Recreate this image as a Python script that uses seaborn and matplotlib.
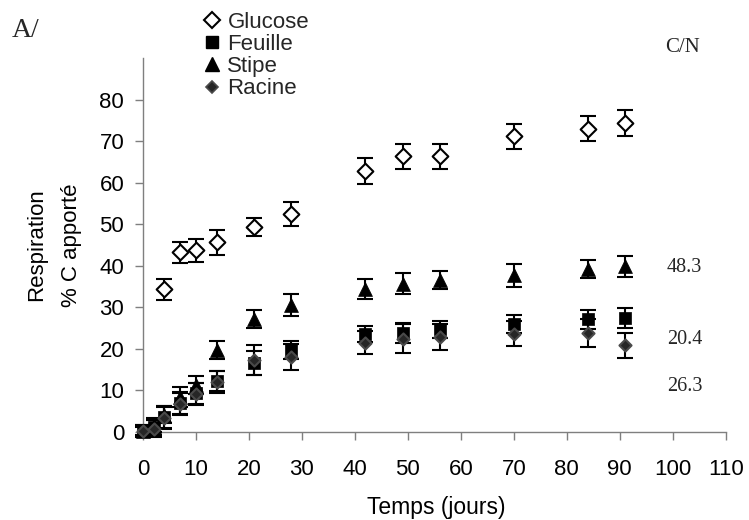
import matplotlib
matplotlib.use("Agg")
import matplotlib.pyplot as plt
from matplotlib.lines import Line2D
import pandas as pd
import seaborn as sns

# ---- data ----
days = [0, 2, 4, 7, 10, 14, 21, 28, 42, 49, 56, 70, 84, 91]
glucose_days = [4, 7, 10, 14, 21, 28, 42, 49, 56, 70, 84, 91]
glucose = [34.3, 43.2, 43.7, 45.7, 49.4, 52.4, 62.8, 66.3, 66.3, 71.2, 73.0, 74.4]
glucose_err = [2.6, 2.6, 2.7, 3.0, 2.2, 2.9, 3.1, 2.9, 2.9, 3.0, 3.0, 3.1]
feuille = [0.2, 1.3, 3.6, 6.9, 9.3, 12.3, 16.6, 19.7, 23.6, 23.9, 24.7, 26.0, 27.1, 27.5]
feuille_err = [1.5, 2.0, 2.6, 2.5, 2.5, 2.4, 3.0, 2.2, 1.9, 2.4, 2.1, 2.2, 2.2, 2.4]
stipe = [0.3, 1.5, 4.2, 8.5, 11.3, 19.7, 27.2, 30.5, 34.5, 35.7, 36.5, 37.7, 39.3, 39.9]
stipe_err = [1.0, 1.5, 2.0, 2.4, 2.2, 2.2, 2.2, 2.6, 2.4, 2.5, 2.2, 2.8, 2.2, 2.5]
racine = [0.2, 0.8, 3.4, 6.8, 9.1, 12.1, 17.4, 18.0, 21.5, 22.5, 22.9, 23.6, 23.9, 20.9]
racine_err = [1.5, 2.0, 2.6, 2.8, 2.6, 2.6, 3.6, 3.2, 2.7, 3.4, 3.2, 3.0, 3.4, 3.0]
series_labels = ["Glucose", "Feuille", "Stipe", "Racine"]
cn_title = "C/N"
cn_labels = ["48.3", "20.4", "26.3"]
cn_values_pos = [39.7, 22.3, 10.9]
xticks = list(range(0, 111, 10))
yticks = list(range(0, 81, 10))

sns.set_theme(style="ticks")
plt.rcParams["font.family"] = ["Liberation Sans", "DejaVu Sans"]

W, H = 749, 520
fig = plt.figure(figsize=(W / 100, H / 100), dpi=100)
ax = fig.add_axes([143 / W, 1 - 432 / H, 582.7 / W, 374 / H])

styles = {
    "Glucose": dict(marker="D", s=64, color="white", edgecolor="black", linewidth=1.5),
    "Feuille": dict(marker="s", s=64, color="black", edgecolor="black", linewidth=0.5),
    "Stipe": dict(marker="^", s=100, color="black", edgecolor="black", linewidth=0.5),
    "Racine": dict(marker="D", s=38, color="#262626", edgecolor="#4a4a4a", linewidth=1.5),
}

data = {
    "Glucose": (glucose_days, glucose, glucose_err),
    "Feuille": (days, feuille, feuille_err),
    "Stipe": (days, stipe, stipe_err),
    "Racine": (days, racine, racine_err),
}

z = 2
for name in series_labels:
    x, y, e = data[name]
    df = pd.DataFrame({"Temps": x, "Resp": y, "err": e})
    eb = ax.errorbar(df["Temps"], df["Resp"], yerr=df["err"], fmt="none",
                     ecolor="black", elinewidth=1.5, capsize=5.8, capthick=1.5,
                     zorder=z)
    for art in eb.get_children():
        art.set_clip_on(False)
    sns.scatterplot(data=df, x="Temps", y="Resp", ax=ax, legend=False,
                    zorder=z + 1, clip_on=False, **styles[name])
    z += 2

ax.set_xlim(0, 110)
ax.set_ylim(0, 90)
ax.set_xticks(xticks)
ax.set_yticks(yticks)
ax.set_xticklabels([str(t) for t in xticks])
ax.set_yticklabels([str(t) for t in yticks])

for side in ["top", "right"]:
    ax.spines[side].set_visible(False)
for side in ["left", "bottom"]:
    ax.spines[side].set_color("#7f7f7f")
    ax.spines[side].set_linewidth(1.0)

ax.tick_params(axis="both", direction="out", length=5.5, width=1.0,
               color="#7f7f7f", labelsize=16, labelcolor="black")
ax.tick_params(axis="y", pad=8)
ax.tick_params(axis="x", pad=14)

ax.set_ylabel("Respiration\n% C apporté", fontsize=16, linespacing=1.85, color="black")
ax.yaxis.set_label_coords(-0.105, 0.5)
ax.set_xlabel("Temps (jours)", fontsize=16.5, color="black")
ax.xaxis.set_label_coords(0.503, -0.172)

serif = ["Liberation Serif", "DejaVu Serif"]
fig.text(12 / W, 1 - 37 / H, "A/", family=serif, fontsize=20, va="baseline", ha="left")
fig.text(665 / W, 1 - 52 / H, cn_title, family=serif, fontsize=15, va="baseline", ha="left")
for lab, yv in zip(cn_labels, cn_values_pos):
    ax.text(98.9, yv, lab, family=serif, fontsize=14.5, va="center", ha="left", clip_on=False)

handles = [
    Line2D([], [], ls="none", marker="D", markersize=8, mfc="white", mec="black", mew=1.5),
    Line2D([], [], ls="none", marker="s", markersize=8, mfc="black", mec="black"),
    Line2D([], [], ls="none", marker="^", markersize=9.5, mfc="black", mec="black"),
    Line2D([], [], ls="none", marker="D", markersize=6, mfc="#262626", mec="#4a4a4a", mew=1.2),
]
fig.legend(handles, series_labels, loc="upper left", bbox_to_anchor=(203 / W, 1 - 12 / H),
           frameon=False, fontsize=16, labelspacing=0.05, handlelength=0.8,
           handletextpad=0.3, borderpad=0, borderaxespad=0)

fig.savefig("out.png", dpi=100)
